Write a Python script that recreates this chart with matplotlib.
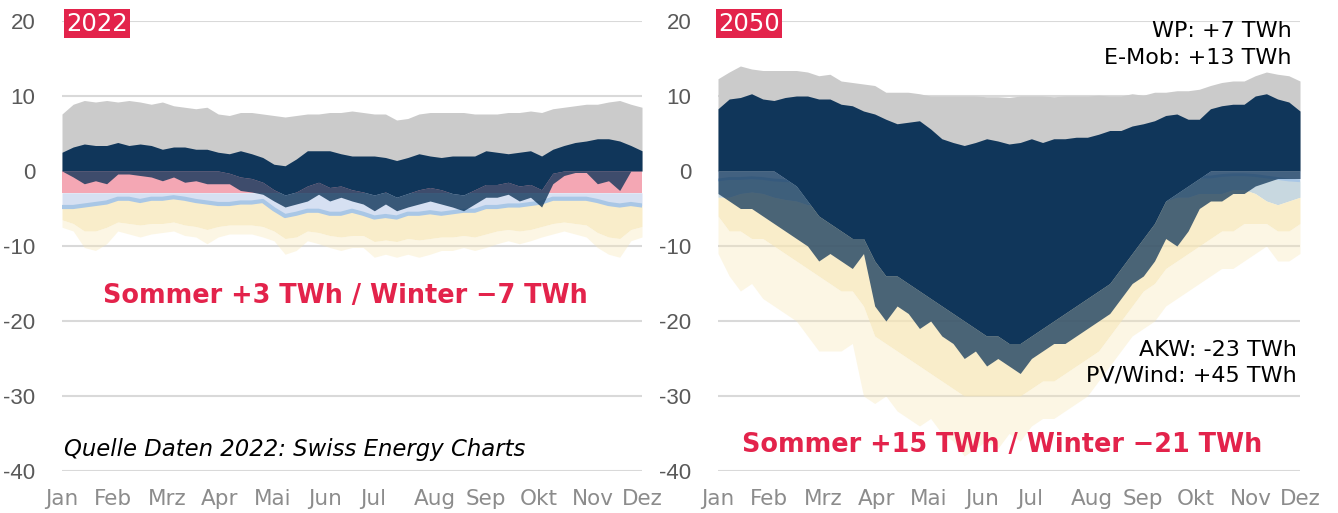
import matplotlib.pyplot as plt

plt.rcParams['axes.unicode_minus'] = False

# weekly sample points (day of year)
days = list(range(0, 365, 7))

month_labels = ["Jan", "Feb", "Mrz", "Apr", "Mai", "Jun", "Jul", "Aug", "Sep", "Okt", "Nov", "Dez"]
month_pos = [0, 32, 66, 99, 132, 165, 195, 234, 266, 299, 333, 364]
y_ticks = [-40, -30, -20, -10, 0, 10, 20]

# ---- 2022 (GW) ----
gray_top_22 = [7.6, 8.9, 9.4, 9.2, 9.4, 9.2, 9.4, 9.2, 8.9, 9.2,
               8.7, 8.5, 8.3, 8.5, 7.6, 7.4, 7.8, 7.8, 7.6, 7.4,
               7.2, 7.4, 7.6, 7.6, 7.8, 7.8, 8.0, 7.8, 7.6, 7.6,
               6.8, 7.0, 7.6, 7.8, 7.8, 7.8, 7.8, 7.6, 7.6, 7.6,
               7.8, 7.8, 8.0, 7.8, 8.3, 8.5, 8.7, 8.9, 8.9, 9.2,
               9.4, 8.9, 8.5]
navy_top_22 = [2.5, 3.2, 3.6, 3.4, 3.4, 3.8, 3.4, 3.6, 3.4, 2.9,
               3.2, 3.2, 2.9, 2.9, 2.5, 2.3, 2.7, 2.3, 1.8, 0.9,
               0.7, 1.6, 2.7, 2.7, 2.7, 2.3, 2.0, 2.0, 2.0, 1.8,
               1.4, 1.8, 2.3, 2.0, 1.8, 2.0, 2.0, 2.0, 2.7, 2.5,
               2.3, 2.5, 2.7, 2.0, 2.9, 3.4, 3.8, 4.0, 4.3, 4.3,
               4.0, 3.4, 2.7]
navy_base_22 = [0.0, 0.0, 0.0, 0.0, 0.0, 0.0, 0.0, 0.0, 0.0, 0.0,
                0.0, 0.0, 0.0, 0.0, 0.0, -0.3, -0.8, -1.0, -1.5, -2.5,
                -3.2, -2.8, -2.0, -1.5, -2.2, -2.0, -2.5, -2.8, -3.2, -2.8,
                -3.5, -3.0, -2.5, -2.2, -2.5, -3.0, -3.2, -2.5, -1.8, -1.8,
                -1.5, -2.0, -1.8, -2.5, -0.3, 0.0, 0.0, 0.0, 0.0, 0.0,
                0.0, 0.0, 0.0]
navy_low_22 = [0.0, -0.8, -1.7, -1.3, -1.7, -0.4, -0.4, -0.6, -0.8, -1.3,
               -0.8, -1.5, -1.3, -1.7, -1.7, -1.7, -2.6, -2.8, -3.1, -4.0,
               -4.8, -4.4, -4.0, -3.1, -4.0, -3.5, -4.0, -4.4, -5.3, -4.4,
               -5.3, -4.8, -4.4, -4.0, -4.4, -4.8, -5.3, -4.4, -3.5, -3.5,
               -3.1, -4.0, -3.5, -4.8, -1.7, -0.6, -0.2, -0.2, -1.7, -1.3,
               -2.6, 0.0, 0.0]
nuclear_22 = -2.9
blue_edge_22 = [-4.8, -4.8, -4.6, -4.4, -4.2, -3.7, -3.7, -4.0, -3.7, -3.7,
                -3.5, -3.7, -4.0, -4.2, -4.4, -4.4, -4.2, -4.2, -4.0, -5.1,
                -6.0, -5.7, -5.3, -5.3, -5.7, -5.7, -5.3, -5.7, -6.2, -6.0,
                -6.2, -5.7, -5.7, -5.5, -5.7, -5.5, -5.3, -5.3, -4.8, -4.8,
                -4.6, -4.6, -4.4, -4.2, -3.7, -3.7, -3.7, -3.7, -4.0, -4.4,
                -4.6, -4.4, -4.6]
yellow_mid_22 = [-6.5, -7.0, -8.0, -8.0, -7.5, -6.8, -7.0, -7.2, -7.0, -7.0,
                 -6.8, -7.2, -7.4, -7.8, -7.4, -7.2, -7.2, -7.2, -7.4, -8.0,
                 -9.0, -8.8, -8.0, -8.2, -8.6, -8.8, -8.6, -8.6, -9.4, -9.2,
                 -9.4, -9.0, -9.2, -9.0, -8.8, -8.8, -8.6, -8.8, -8.4, -8.0,
                 -7.8, -8.0, -7.8, -7.4, -7.0, -6.8, -7.0, -7.2, -8.2, -8.8,
                 -9.0, -7.8, -7.4]
yellow_low_22 = [-7.5, -8.0, -10.2, -10.6, -9.7, -8.0, -8.4, -8.8, -8.4, -8.2,
                 -8.0, -8.6, -8.8, -9.7, -8.8, -8.4, -8.4, -8.4, -8.8, -9.3,
                 -11.1, -10.6, -9.3, -9.7, -10.2, -10.6, -10.2, -10.2, -11.5, -11.1,
                 -11.5, -11.1, -11.5, -11.1, -10.6, -10.6, -10.2, -10.6, -10.2, -9.7,
                 -9.3, -9.7, -9.3, -8.8, -8.4, -8.0, -8.4, -8.8, -10.2, -11.1,
                 -11.5, -9.3, -8.8]

# ---- 2050 (GW) ----
gray_top_50 = [12.3, 13.2, 14.0, 13.6, 13.4, 13.4, 13.4, 13.4, 13.2, 12.7,
               12.9, 12.0, 11.8, 11.6, 11.4, 10.5, 10.5, 10.5, 10.3, 10.0,
               10.0, 10.0, 10.0, 10.0, 9.9, 9.9, 9.8, 10.0, 10.0, 10.0,
               9.9, 10.0, 10.0, 10.0, 10.1, 10.0, 10.0, 10.3, 10.1, 10.5,
               10.5, 10.7, 10.7, 10.9, 11.4, 11.8, 12.0, 12.0, 12.7, 13.2,
               12.9, 12.7, 12.0]
navy_top_50 = [8.3, 9.6, 9.8, 10.3, 9.6, 9.4, 9.8, 10.0, 10.0, 9.6,
               9.6, 8.9, 8.7, 8.0, 7.6, 6.9, 6.3, 6.5, 6.7, 5.6,
               4.3, 3.8, 3.4, 3.8, 4.3, 4.0, 3.6, 3.8, 4.3, 3.8,
               4.3, 4.3, 4.5, 4.5, 4.9, 5.4, 5.4, 6.0, 6.3, 6.7,
               7.4, 7.6, 6.9, 6.9, 8.3, 8.7, 8.9, 8.9, 10.0, 10.3,
               9.6, 9.2, 8.0]
navy_base_50 = [0, 0, 0, 0, 0, 0, -1, -2, -4, -6,
                -7, -8, -9, -9, -12, -14, -14, -15, -16, -17,
                -18, -19, -20, -21, -22, -22, -23, -23, -22, -21,
                -20, -19, -18, -17, -16, -15, -13, -11, -9, -7,
                -4, -3, -2, -1, 0, 0, 0, 0, 0, 0,
                0, 0, 0]
navy_low_50 = [-3, -4, -5, -5, -6, -7, -8, -9, -10, -12,
               -11, -12, -13, -11, -18, -20, -18, -19, -21, -20,
               -22, -23, -25, -24, -26, -25, -26, -27, -25, -24,
               -23, -23, -22, -21, -20, -19, -17, -15, -14, -12,
               -9, -10, -8, -5, -4, -4, -3, -3, -2, -1.5,
               -1, -1, -1]
lav_bot_50 = [-1.2, -1.0, -1.0, -0.9, -1.0, -1.2, -1.3, -1.3, -1.4, -1.4,
              -1.5, -1.5, -1.5, -1.5, -1.5, -1.5, -1.5, -1.5, -1.5, -1.5,
              -1.5, -1.5, -1.5, -1.5, -1.5, -1.5, -1.5, -1.5, -1.5, -1.5,
              -1.5, -1.5, -1.5, -1.5, -1.5, -1.5, -1.5, -1.5, -1.5, -1.4,
              -1.2, -1.0, -1.0, -0.8, -0.8, -0.6, -0.5, -0.5, -0.6, -0.8,
              -1.0, -1.2, -1.3]
teal_low_50 = [-3.5, -3.5, -3.0, -2.8, -3.0, -3.5, -3.8, -4.0, -4.5, -4.5,
               -4.5, -4.5, -4.5, -4.5, -5.0, -5.0, -5.0, -5.0, -5.0, -5.0,
               -5.0, -5.0, -5.0, -5.0, -5.0, -5.0, -5.0, -5.0, -5.0, -5.0,
               -5.0, -5.0, -5.0, -5.0, -5.0, -5.0, -5.0, -5.0, -5.0, -4.5,
               -4.0, -3.5, -3.5, -3.0, -3.0, -3.0, -2.5, -2.5, -3.0, -4.0,
               -4.5, -4.0, -3.5]
yellow_mid_50 = [-6, -8, -8, -9, -9, -10, -11, -12, -13, -14,
                 -15, -16, -16, -18, -22, -23, -24, -25, -26, -27,
                 -28, -29, -30, -30, -30, -30, -30, -30, -29, -28,
                 -28, -27, -26, -25, -24, -22, -20, -18, -16, -15,
                 -13, -12, -11, -10, -9, -8, -8, -7, -7, -7,
                 -8, -8, -7]
yellow_low_50 = [-11, -14, -16, -15, -17, -18, -19, -20, -22, -24,
                 -24, -24, -23, -30, -31, -30, -32, -33, -34, -33,
                 -35, -36, -38, -37, -36, -37, -35, -36, -34, -33,
                 -33, -32, -31, -30, -28, -26, -24, -22, -21, -20,
                 -18, -17, -16, -15, -14, -13, -13, -12, -11, -10,
                 -12, -12, -11]

NAVY = '#10365a'
GRAY = '#cbcbcb'
PINK = '#f4a7b4'
LAV = '#d6e0f2'
LBLUE = '#a9c7e6'
YELLOW = '#f7e6b4'
RED = '#e3234b'

fig = plt.figure(figsize=(13.38, 5.13), dpi=100)
ax1 = fig.add_axes([62 / 1338, 42 / 513, 580 / 1338, 450 / 513])
ax2 = fig.add_axes([718 / 1338, 42 / 513, 582 / 1338, 450 / 513])

for ax in (ax1, ax2):
    ax.set_xlim(0, 364)
    ax.set_ylim(-40, 20)
    ax.set_yticks(y_ticks)
    ax.set_yticklabels([str(t) for t in y_ticks], fontfamily='Liberation Sans',
                       fontsize=16, color='#595959')
    ax.set_xticks(month_pos)
    ax.set_xticklabels(month_labels, fontsize=15.5, color='#8c8c8c')
    ax.tick_params(length=0)
    ax.tick_params(axis='x', pad=13)
    ax.tick_params(axis='y', pad=19)
    ax.grid(axis='y', color='#d9d9d9', lw=1.5)
    ax.set_axisbelow(True)
    for s in ax.spines.values():
        s.set_visible(False)

# 2022
ax1.fill_between(days, 0, gray_top_22, color=GRAY, lw=0, zorder=1)
ax1.fill_between(days, nuclear_22, blue_edge_22, color=LAV, lw=0, zorder=2)
ax1.fill_between(days, blue_edge_22, yellow_mid_22, color=YELLOW, alpha=0.7, lw=0, zorder=2)
ax1.fill_between(days, yellow_mid_22, yellow_low_22, color=YELLOW, alpha=0.35, lw=0, zorder=2)
ax1.plot(days, blue_edge_22, color=LBLUE, lw=3, zorder=3)
ax1.fill_between(days, 0, nuclear_22, color=PINK, lw=0, zorder=3)
ax1.fill_between(days, navy_base_22, navy_low_22, color=NAVY, alpha=0.8, lw=0, zorder=4)
ax1.fill_between(days, navy_base_22, navy_top_22, color=NAVY, lw=0, zorder=5)

# 2050
ax2.fill_between(days, 0, gray_top_50, color=GRAY, lw=0, zorder=1)
ax2.fill_between(days, 0, lav_bot_50, color=LAV, lw=0, zorder=2)
ax2.fill_between(days, lav_bot_50, teal_low_50, color='#c8d8e0', lw=0, zorder=2)
ax2.plot(days, lav_bot_50, color=LBLUE, lw=2, zorder=3)
ax2.fill_between(days, teal_low_50, yellow_mid_50, color=YELLOW, alpha=0.7, lw=0, zorder=2)
ax2.fill_between(days, yellow_mid_50, yellow_low_50, color=YELLOW, alpha=0.35, lw=0, zorder=2)
ax2.fill_between(days, navy_base_50, navy_low_50, color=NAVY, alpha=0.75, lw=0, zorder=4)
ax2.fill_between(days, navy_base_50, navy_top_50, color=NAVY, lw=0, zorder=5)

badge = dict(boxstyle='square,pad=0.1', fc=RED, ec='none')
ax1.text(0.007, 0.9944, '2022', transform=ax1.transAxes, ha='left', va='center',
         fontsize=17.5, color='white', bbox=badge, zorder=10)
ax2.text(0.0, 0.9944, '2050', transform=ax2.transAxes, ha='left', va='center',
         fontsize=17.5, color='white', bbox=badge, zorder=10)

ax1.text(0.488, -17.6, 'Sommer +3 TWh / Winter \u22127 TWh', transform=ax1.get_yaxis_transform(),
         ha='center', va='baseline', fontsize=18.4, fontweight='bold', color=RED, zorder=10)
ax2.text(0.488, -37.5, 'Sommer +15 TWh / Winter \u221221 TWh', transform=ax2.get_yaxis_transform(),
         ha='center', va='baseline', fontsize=18.4, fontweight='bold', color=RED, zorder=10)

ax1.text(0.003, -38.0, 'Quelle Daten 2022: Swiss Energy Charts', transform=ax1.get_yaxis_transform(),
         ha='left', va='baseline', fontsize=16.4, style='italic', color='black', zorder=10)

ax2.text(0.986, 17.9, 'WP: +7 TWh', transform=ax2.get_yaxis_transform(),
         ha='right', va='baseline', fontsize=16, color='black', zorder=10)
ax2.text(0.986, 14.3, 'E-Mob: +13 TWh', transform=ax2.get_yaxis_transform(),
         ha='right', va='baseline', fontsize=16, color='black', zorder=10)
ax2.text(0.995, -24.7, 'AKW: -23 TWh', transform=ax2.get_yaxis_transform(),
         ha='right', va='baseline', fontsize=16, color='black', zorder=10)
ax2.text(0.995, -28.1, 'PV/Wind: +45 TWh', transform=ax2.get_yaxis_transform(),
         ha='right', va='baseline', fontsize=16, color='black', zorder=10)

fig.savefig('out.png', dpi=100)
